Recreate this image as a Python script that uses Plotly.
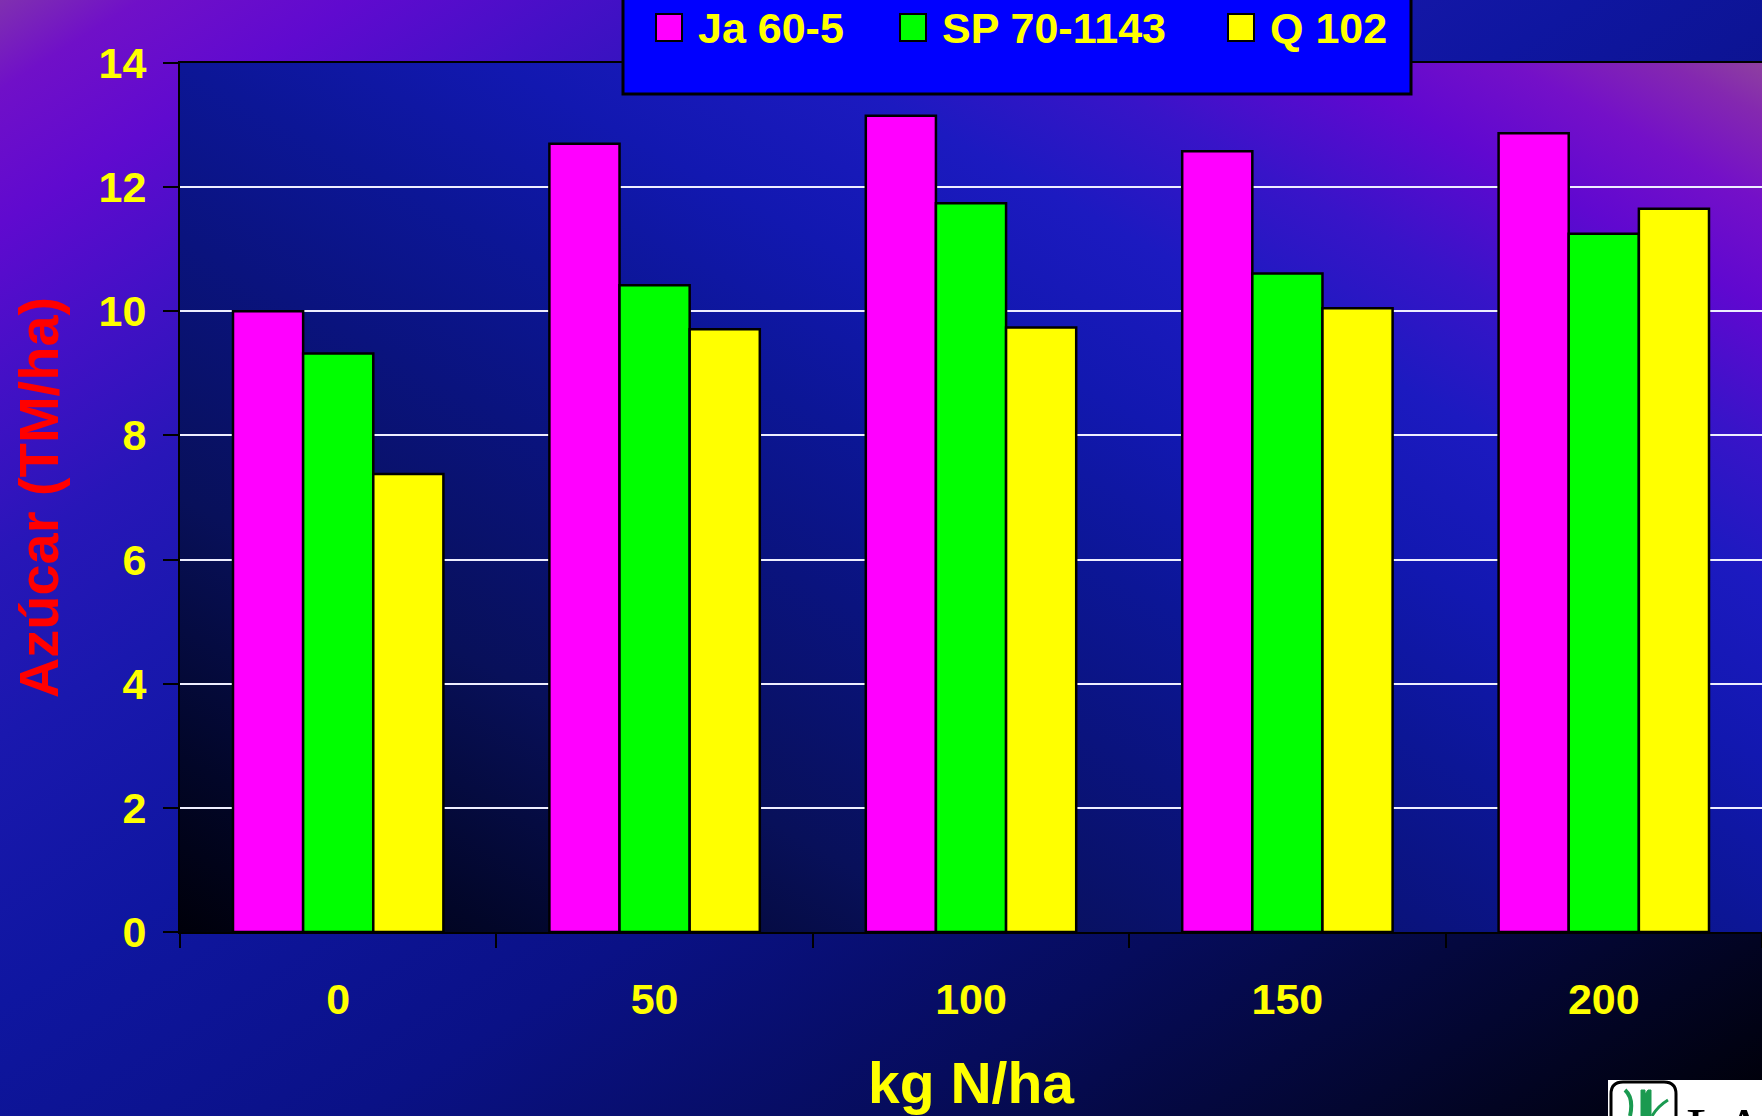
import base64
import plotly.graph_objects as go

# ---- data -------------------------------------------------------------
dosis_n = ["0", "50", "100", "150", "200"]          # kg N/ha
variedades = ["Ja 60-5", "SP 70-1143", "Q 102"]
ja_60_5 = [10.0, 12.70, 13.15, 12.58, 12.87]
sp_70_1143 = [9.32, 10.42, 11.74, 10.61, 11.25]
q_102 = [7.38, 9.71, 9.74, 10.05, 11.65]
y_ticks = [0, 2, 4, 6, 8, 10, 12, 14]

series = [ja_60_5, sp_70_1143, q_102]
colores = ["#ff00ff", "#00ff00", "#ffff00"]

# ---- page geometry (pixels) --------------------------------------------
W, H = 1762, 1116
L, T, R, B = 180, 63, 1762, 932
PW, PH = R - L, B - T


def px(x):
    return (x - L) / PW


def py(y):
    return (B - y) / PH


FONT = "Liberation Sans, Arial, sans-serif"
YELLOW = "#ffff00"


def gradient_uri(stops, x1, y1, x2, y2):
    stop_tags = "".join(
        f'<stop offset="{o}" stop-color="{c}"/>' for o, c in stops
    )
    svg = (
        '<svg xmlns="http://www.w3.org/2000/svg" width="400" height="400" '
        'viewBox="0 0 400 400" preserveAspectRatio="none">'
        f'<defs><linearGradient id="g" x1="{x1}" y1="{y1}" x2="{x2}" y2="{y2}">'
        f"{stop_tags}</linearGradient></defs>"
        '<rect width="400" height="400" fill="url(#g)"/></svg>'
    )
    return "data:image/svg+xml;base64," + base64.b64encode(svg.encode()).decode()


paper_stops = [
    (0, "#8030b0"), (0.04, "#7010c8"), (0.10, "#600acf"), (0.17, "#4410c6"),
    (0.25, "#2816b8"), (0.33, "#1a18ae"), (0.45, "#0f16a0"), (0.60, "#0a1186"),
    (0.75, "#060c5c"), (0.88, "#030630"), (1, "#000006"),
]
plot_stops = [
    (0, "#00000a"), (0.10, "#020628"), (0.25, "#08105a"), (0.40, "#0a137e"),
    (0.50, "#0c1696"), (0.60, "#1218b0"), (0.70, "#1c1ac0"), (0.78, "#3814c8"),
    (0.86, "#6008d0"), (0.92, "#7410c8"), (0.97, "#8428b0"), (1, "#8e40a0"),
]

fig = go.Figure()

for nombre, valores, color in zip(variedades, series, colores):
    fig.add_trace(
        go.Bar(
            x=dosis_n,
            y=valores,
            name=nombre,
            marker=dict(color=color, line=dict(color="#000000", width=2.5)),
            showlegend=False,
            hovertemplate="%{x} kg N/ha: %{y:.2f}<extra>" + nombre + "</extra>",
        )
    )

# ---- legend box, drawn by hand so the swatches can be large ------------
shapes = [
    dict(type="rect", xref="paper", yref="paper",
         x0=px(623), x1=px(1411), y0=py(94), y1=py(-10),
         fillcolor="#0000ff", line=dict(color="#000000", width=3), layer="above"),
]
annotations = []
swatch_x = [656, 900, 1228]
for sx, nombre, color in zip(swatch_x, variedades, colores):
    shapes.append(dict(type="rect", xref="paper", yref="paper",
                       x0=px(sx), x1=px(sx + 26), y0=py(41), y1=py(14),
                       fillcolor=color, line=dict(color="#000000", width=2),
                       layer="above"))
    annotations.append(dict(xref="paper", yref="paper", x=px(sx + 40), y=py(28),
                            xanchor="left", yanchor="middle", showarrow=False,
                            text=nombre,
                            font=dict(family=FONT, size=43, color=YELLOW,
                                      weight="bold")))

# ---- institute logo in the corner -------------------------------------
shapes += [
    dict(type="rect", xref="paper", yref="paper",
         x0=px(1608), x1=px(1775), y0=py(1130), y1=py(1080),
         fillcolor="#ffffff", line=dict(width=0), layer="above"),
    dict(type="path", xref="paper", yref="paper",
         path=(f"M{px(1611)},{py(1130)} L{px(1611)},{py(1094)} "
               f"Q{px(1611)},{py(1082)} {px(1623)},{py(1082)} "
               f"L{px(1664)},{py(1082)} Q{px(1676)},{py(1082)} {px(1676)},{py(1094)} "
               f"L{px(1676)},{py(1130)}"),
         line=dict(color="#000000", width=3), layer="above"),
    dict(type="path", xref="paper", yref="paper",
         path=(f"M{px(1630)},{py(1116)} Q{px(1634)},{py(1098)} {px(1625)},{py(1090)}"),
         line=dict(color="#1a9a50", width=4), layer="above"),
    dict(type="path", xref="paper", yref="paper",
         path=(f"M{px(1641)},{py(1116)} L{px(1641)},{py(1090)} "
               f"L{px(1645)},{py(1090)} L{px(1645)},{py(1094)} L{px(1648)},{py(1090)} "
               f"L{px(1651)},{py(1090)} L{px(1651)},{py(1116)} Z"),
         fillcolor="#1a9a50", line=dict(color="#1a9a50", width=1), layer="above"),
    dict(type="path", xref="paper", yref="paper",
         path=(f"M{px(1652)},{py(1116)} Q{px(1658)},{py(1106)} {px(1668)},{py(1100)}"),
         line=dict(color="#1a9a50", width=3), layer="above"),
]
annotations.append(dict(xref="paper", yref="paper", x=px(1684), y=py(1094),
                        xanchor="left", yanchor="top", showarrow=False,
                        text="LA",
                        font=dict(family="Liberation Serif, serif", size=60,
                                  color="#000000")))

fig.update_layout(
    width=W,
    height=H,
    margin=dict(l=L, r=W - R, t=T, b=H - B, pad=0),
    paper_bgcolor="#0b1290",
    plot_bgcolor="rgba(0,0,0,0)",
    barmode="group",
    bargap=0.335,
    bargroupgap=0,
    showlegend=False,
    shapes=shapes,
    annotations=annotations,
    images=[
        dict(source=gradient_uri(paper_stops, 0, 0, 1, 1),
             xref="paper", yref="paper", x=-L / PW, y=1 + T / PH,
             sizex=W / PW, sizey=H / PH, xanchor="left", yanchor="top",
             sizing="stretch", layer="below"),
        dict(source=gradient_uri(plot_stops, 0, 1, 1, 0),
             xref="paper", yref="paper", x=0, y=1, sizex=1, sizey=1,
             xanchor="left", yanchor="top", sizing="stretch", layer="below"),
    ],
    xaxis=dict(
        type="category",
        categoryorder="array",
        categoryarray=dosis_n,
        range=[-0.5, 4.5],
        tickson="boundaries",
        ticks="outside",
        ticklen=14,
        tickwidth=2,
        tickcolor="#000000",
        showline=True,
        linecolor="#000000",
        linewidth=2,
        mirror=True,
        showgrid=False,
        tickfont=dict(family=FONT, size=43, color=YELLOW, weight="bold"),
        ticklabelstandoff=28,
        title=dict(text="kg N/ha", standoff=42,
                   font=dict(family=FONT, size=57, color=YELLOW, weight="bold")),
    ),
    yaxis=dict(
        range=[0, 14],
        tickvals=y_ticks,
        ticks="outside",
        ticklen=15,
        tickwidth=2,
        tickcolor="#000000",
        showline=True,
        linecolor="#000000",
        linewidth=2,
        showgrid=True,
        gridcolor="#eeeeff",
        gridwidth=2,
        zeroline=False,
        tickfont=dict(family=FONT, size=43, color=YELLOW, weight="bold"),
        ticklabelstandoff=8,
        title=dict(text="Azúcar (TM/ha)", standoff=22,
                   font=dict(family=FONT, size=56, color="#ff0000", weight="bold")),
    ),
)

fig.write_html("out.html")
